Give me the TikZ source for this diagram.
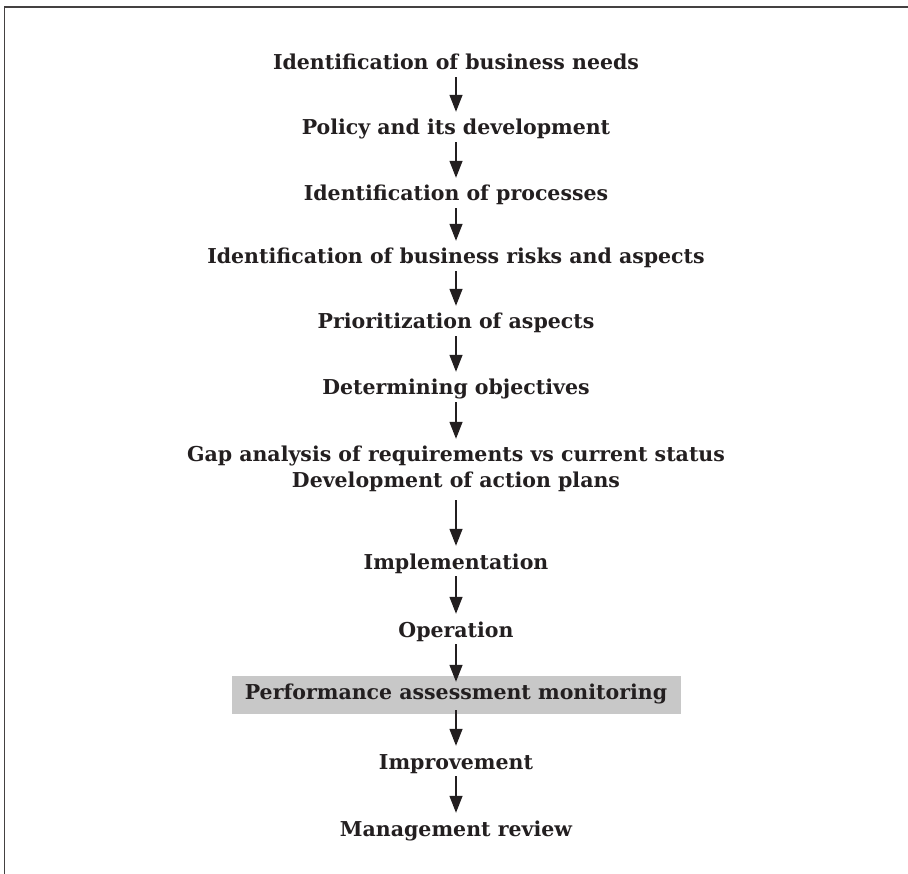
\documentclass[tikz,border=0pt]{standalone}
\usepackage{fontspec}
\setmainfont{DejaVu Serif}
\usetikzlibrary{arrows.meta}

\definecolor{ink}{RGB}{35,31,32}
\definecolor{boxgray}{RGB}{200,200,200}

\tikzset{
  stage/.style={anchor=base, inner sep=0pt, text height=15pt, text depth=6pt,
                font=\fontsize{20.5}{26}\selectfont\bfseries, text=ink, align=center},
  shaded/.style={stage, anchor=center, fill=boxgray, minimum width=449pt, minimum height=38pt},
  flow/.style={draw=ink, line width=1.3pt, -{Triangle[length=17pt,width=13pt]},
               shorten <=1pt, shorten >=8pt},
  frameline/.style={draw=ink!85, line width=1.5pt},
}

\begin{document}
\begin{tikzpicture}[x=1pt,y=-1pt]
  \useasboundingbox (0,0) rectangle (908,874);

  % open frame: top and left edges only
  \coordinate (fTR) at (908,7);
  \coordinate (fTL) at (4.5,7);
  \coordinate (fBL) at (4.5,874);
  \path[frameline] (fTR) -- (fTL) -- (fBL);

  % process stages, placed by baseline
  \node[stage] (s1)  at (456,70)  {Identification of business needs};
  \node[stage] (s2)  at (456,135) {Policy and its development};
  \node[stage] (s3)  at (456,201) {Identification of processes};
  \node[stage] (s4)  at (456,264) {Identification of business risks and aspects};
  \node[stage] (s5)  at (456,329) {Prioritization of aspects};
  \node[stage] (s6)  at (456,395) {Determining objectives};
  \node[stage, text height=41pt] (s7) at (456,488) {Gap analysis of requirements vs current status\\Development of action plans};
  \node[stage] (s8)  at (456,569) {Implementation};
  \node[stage] (s9)  at (456,637) {Operation};
  \node[shaded] (s10) at (456,695) {Performance assessment monitoring};
  \node[stage] (s11) at (456,769) {Improvement};
  \node[stage] (s12) at (456,836) {Management review};

  % connectors
  \draw[flow] (s1.south) -- (s2.north);
  \draw[flow] (s2.south) -- (s3.north);
  \draw[flow] (s3.south) -- (s4.north);
  \draw[flow] (s4.south) -- (s5.north);
  \draw[flow] (s5.south) -- (s6.north);
  \draw[flow] (s6.south) -- (s7.north);
  \draw[flow, shorten <=6pt] (s7.south) -- (s8.north);
  \draw[flow] (s8.south) -- (s9.north);
  \draw[flow, shorten >=-6pt] (s9.south) -- (s10.north);
  \draw[flow, shorten <=-4pt] (s10.south) -- (s11.north);
  \draw[flow] (s11.south) -- (s12.north);
\end{tikzpicture}
\end{document}
